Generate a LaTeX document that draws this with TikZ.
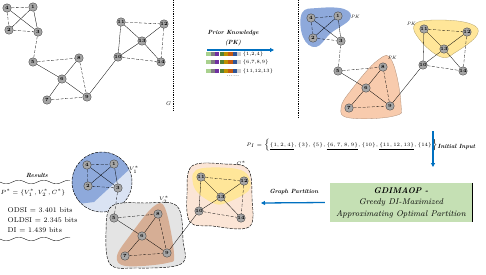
\documentclass[tikz,border=0pt]{standalone}
\usetikzlibrary{arrows.meta}
\definecolor{arrowblue}{HTML}{0070C0}
\definecolor{rblue}{HTML}{8EA9DB}
\definecolor{rlblue}{HTML}{DAE3F3}
\definecolor{rorange}{HTML}{F8CBAD}
\definecolor{ryellow}{HTML}{FFE699}
\definecolor{rgray}{HTML}{E4E4E4}
\definecolor{rbrown}{HTML}{D6AE95}
\definecolor{rpeach}{HTML}{FBE5D6}
\definecolor{rgreen}{HTML}{C5E0B4}
\definecolor{vgray}{HTML}{A6A6A6}
\definecolor{sqA}{HTML}{A9D18E}
\definecolor{sqB}{HTML}{7F7F7F}
\definecolor{sqC}{HTML}{7030A0}
\definecolor{sqD}{HTML}{548235}
\definecolor{sqE}{HTML}{BF9000}
\definecolor{sqF}{HTML}{C55A11}
\definecolor{sqG}{HTML}{2F5597}
\definecolor{sqH}{HTML}{D0CECE}
\tikzset{
  vtx/.style={circle, draw=black!75, line width=0.35pt, fill=vgray, inner sep=0pt, minimum size=8.5pt, font=\fontsize{4.8}{5}\selectfont\bfseries},
  sedge/.style={draw=black, line width=0.3pt},
  dedge/.style={draw=black, line width=0.3pt, dash pattern=on 3pt off 1.6pt},
  barrow/.style={draw=arrowblue, line width=1.3pt, -{Triangle[length=4pt,width=4pt]}},
  sep/.style={draw=black, line width=0.9pt, dash pattern=on 0.9pt off 0.9pt},
  rborder/.style={draw=black, line width=0.45pt, dash pattern=on 3pt off 1.2pt},
  smlab/.style={font=\fontsize{4.8}{5}\selectfont\itshape, inner sep=0.5pt},
  captxt/.style={font=\fontsize{6}{7}\selectfont\bfseries\itshape, inner sep=0.5pt},
  restxt/.style={font=\fontsize{7}{8}\selectfont, inner sep=0.5pt, anchor=west},
  gbox/.style={fill=rgreen, draw=none, minimum width=142pt, minimum height=39pt, align=center,
    font=\fontsize{8.3}{11.5}\selectfont\itshape, inner sep=1pt},
  sq/.style={minimum width=4.2pt, minimum height=3.6pt, inner sep=0pt, draw=none}
}
\newcommand\gedges[1]{%
  \foreach \u/\v in {4/3,1/2,1/3,5/6,8/6,6/7,6/9,9/10,10/13,11/13,12/13,13/14,10/11}
    \draw[sedge] (#1\u) -- (#1\v);
  \foreach \u/\v in {4/1,4/2,2/3,3/5,5/8,8/9,7/9,11/12,12/14,10/14}
    \draw[dedge] (#1\u) -- (#1\v);}
\begin{document}
\begin{tikzpicture}[x=1pt,y=-1pt]
\useasboundingbox (0,0) rectangle (486,274);
% separators
\draw[sep] (173,0) -- (173,110);
\draw[sep] (298,0) -- (298,118);

% ---------- top-left graph G
\node[vtx] (a4) at (7,8) {4};
\node[vtx] (a1) at (33,7) {1};
\node[vtx] (a2) at (9,30) {2};
\node[vtx] (a3) at (38,32) {3};
\node[vtx] (a5) at (33,62) {5};
\node[vtx] (a8) at (79,58) {8};
\node[vtx] (a6) at (62,79) {6};
\node[vtx] (a7) at (47,100) {7};
\node[vtx] (a9) at (87,97) {9};
\node[vtx] (a10) at (118,57) {10};
\node[vtx] (a11) at (121,22) {11};
\node[vtx] (a12) at (164,24) {12};
\node[vtx] (a13) at (142,41) {13};
\node[vtx] (a14) at (161,62) {14};
\gedges{a}
\node[smlab, font=\fontsize{5.5}{6}\selectfont\itshape] (gl) at (168,104) {G};

% ---------- prior knowledge
\node[captxt] (pkt) at (233,33) {Prior Knowledge};
\node[captxt] (pkt2) at (233,43) {(PK)};
\coordinate (pkS) at (207,50);
\coordinate (pkE) at (274,50);
\draw[barrow] (pkS) -- (pkE);
\foreach \r/\y/\t in {1/54/{\{1,2,4\}},2/62/{\{6,7,8,9\}},3/71/{\{11,12,13\}}}{
  \foreach \c [count=\i] in {sqA,sqB,sqC,sqD,sqE,sqF,sqG,sqH}
    \node[sq, fill=\c] (sq\r-\i) at ({204+\i*4.4},\y) {};
  \node[font=\fontsize{4.8}{5}\selectfont, anchor=west, inner sep=0.5pt] (pkl\r) at (242,\y) {\t};
}
\node[font=\fontsize{6}{6}\selectfont, inner sep=0pt] (dots) at (233,76) {......};

% ---------- top-right graph with PK regions
\fill[rblue] plot[smooth cycle, tension=0.7] coordinates {(302,13) (318,8) (344,9) (350,19) (331,33) (316,47) (303,37)};
\filldraw[fill=rorange, draw=rorange!70!black, line width=0.3pt] plot[smooth cycle, tension=0.7] coordinates {(378,60) (392,61) (401,104) (394,116) (350,118) (341,108) (352,89)};
\filldraw[fill=ryellow, draw=ryellow!70!black, line width=0.3pt] plot[smooth cycle, tension=0.7] coordinates {(415,24) (440,20) (471,24) (477,35) (456,52) (441,57) (420,40)};
\node[vtx] (b4) at (311,18) {4};
\node[vtx] (b1) at (338,16) {1};
\node[vtx] (b2) at (313,38) {2};
\node[vtx] (b3) at (341,41) {3};
\node[vtx] (b5) at (338,71) {5};
\node[vtx] (b8) at (383,67) {8};
\node[vtx] (b6) at (366,88) {6};
\node[vtx] (b7) at (349,108) {7};
\node[vtx] (b9) at (390,106) {9};
\node[vtx] (b10) at (423,65) {10};
\node[vtx] (b11) at (424,29) {11};
\node[vtx] (b12) at (467,32) {12};
\node[vtx] (b13) at (444,49) {13};
\node[vtx] (b14) at (463,71) {14};
\gedges{b}
\node[smlab] (pk1) at (355,17) {PK};
\node[smlab] (pk2) at (392,58) {PK};
\node[smlab] (pk3) at (411,24) {PK};

% ---------- initial input
\node[font=\fontsize{5}{6}\selectfont, inner sep=0.5pt] (pi) at (342,145)
  {$P_I=\left\{\vphantom{\underline{\{1\}}}\underline{\{1,2,4\}},\{3\},\{5\},\underline{\{6,7,8,9\}},\{10\},\underline{\{11,12,13\}},\{14\}\right\}$};
\coordinate (iiS) at (433,131);
\coordinate (iiE) at (433,167);
\draw[barrow] (iiS) -- (iiE);
\node[captxt, anchor=west] (iil) at (437,147) {Initial Input};

% ---------- algorithm box
\node[gbox] (alg) at (401,202.5) {\textbf{GDIMAOP -}\\Greedy DI-Maximized\\Approximating Optimal Partition};
\draw[line width=1pt] (alg.north east) -- (alg.south east);
\coordinate (gpE) at (261,203);
\draw[barrow] ([xshift=-5pt]alg.west) -- (gpE);
\node[captxt] (gpl) at (294,192) {Graph Partition};

% ---------- bottom partitioned graph
\begin{scope}
  \clip (102,182) circle[radius=30];
  \fill[rlblue] (102,182) circle[radius=30];
  \fill[rblue] (70,145) -- (136,145) -- (133,166) -- (94,202) -- (70,205) -- cycle;
\end{scope}
\draw[rborder] (102,182) circle[radius=30];
\filldraw[fill=rgray, rborder] plot[smooth cycle, tension=0.6] coordinates {(112,206) (145,203) (177,206) (183,240) (181,264) (135,268) (110,264) (106,232)};
\fill[rbrown] plot[smooth cycle, tension=0.6] coordinates {(153,207) (165,208) (174,254) (167,263) (126,266) (117,256) (131,234)};
\filldraw[fill=rpeach, rborder] plot[smooth cycle, tension=0.6] coordinates {(192,166) (225,164) (248,169) (252,198) (249,227) (212,226) (190,222) (187,194)};
\fill[ryellow] plot[smooth cycle, tension=0.6] coordinates {(196,170) (230,168) (247,174) (249,190) (226,203) (213,203) (195,189)};
\node[vtx] (c4) at (87,165) {4};
\node[vtx] (c1) at (114,164) {1};
\node[vtx] (c2) at (88,186) {2};
\node[vtx] (c3) at (118,188) {3};
\node[vtx] (c5) at (114,218) {5};
\node[vtx] (c8) at (158,214) {8};
\node[vtx] (c6) at (142,236) {6};
\node[vtx] (c7) at (125,256) {7};
\node[vtx] (c9) at (167,253) {9};
\node[vtx] (c10) at (199,211) {10};
\node[vtx] (c11) at (201,177) {11};
\node[vtx] (c12) at (244,181) {12};
\node[vtx] (c13) at (221,197) {13};
\node[vtx] (c14) at (241,218) {14};
\gedges{c}
\node[smlab] (vl1) at (134,170) {$V_1^{*}$};
\node[smlab] (vl2) at (164,200) {$V_2^{*}$};
\node[smlab] (cl) at (241,163) {$C^{*}$};

% ---------- results
\node[captxt] (res) at (37,175) {Results};
\draw[line width=0.35pt] plot[domain=0:70, samples=60, smooth] (\x,{182+1.8*sin(\x*14.4)});
\node[font=\fontsize{6.5}{7}\selectfont, inner sep=0.5pt] (pstar) at (33,193) {$P^{*}=\{V_1^{*},V_2^{*},C^{*}\}$};
\node[restxt] (r1) at (7,210) {ODSI = 3.401 bits};
\node[restxt] (r2) at (7,220) {OLDSI = 2.345 bits};
\node[restxt] (r3) at (7,230) {DI = 1.439 bits};
\draw[line width=0.35pt] plot[domain=0:70, samples=60, smooth] (\x,{239+1.8*sin(\x*14.4)});
\end{tikzpicture}
\end{document}
